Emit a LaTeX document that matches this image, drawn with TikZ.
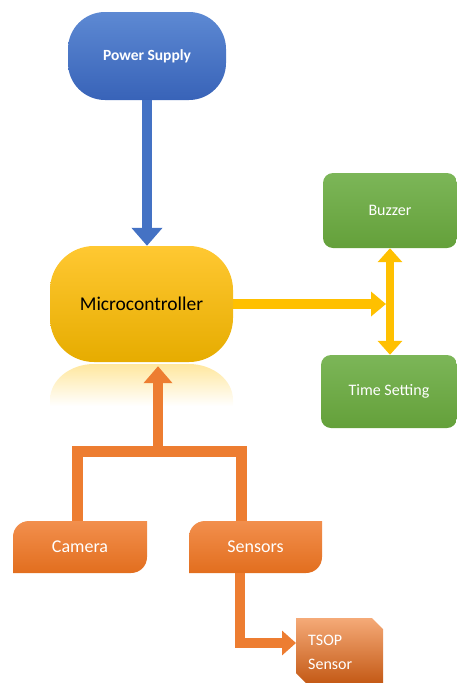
\documentclass[tikz,border=0pt]{standalone}
\usepackage{fontspec}
\setmainfont{Carlito}
\usetikzlibrary{arrows.meta}
\definecolor{bluetop}{RGB}{93,137,211}
\definecolor{bluebot}{RGB}{56,99,184}
\definecolor{bluearr}{RGB}{68,114,196}
\definecolor{yeltop}{RGB}{255,200,50}
\definecolor{yelbot}{RGB}{230,172,0}
\definecolor{yelarr}{RGB}{255,192,0}
\definecolor{grntop}{RGB}{124,182,88}
\definecolor{grnbot}{RGB}{100,160,58}
\definecolor{orgtop}{RGB}{242,143,77}
\definecolor{orgbot}{RGB}{226,110,30}
\definecolor{orgarr}{RGB}{237,125,49}
\definecolor{tsoptop}{RGB}{245,170,120}
\definecolor{tsopbot}{RGB}{196,90,22}
\tikzset{
  boxtext/.style={inner sep=0pt, text=white},
  greenbox/.style={rectangle, rounded corners=10pt, top color=grntop, bottom color=grnbot,
     text=white, font=\fontsize{16}{19}\selectfont},
  orangeshape/.style={top color=orgtop, bottom color=orgbot},
  blockarrow/.style={line width=10pt, line join=miter},
}
\begin{document}
\begin{tikzpicture}[x=1pt,y=-1pt]
\useasboundingbox (0,0) rectangle (457,683);
% reflection of microcontroller
\shade[top color=yelarr!38!white, bottom color=white]
  (50,406) -- (50,400) .. controls (50,380) and (70,364) .. (94,364)
  -- (189,364) .. controls (213,364) and (233,380) .. (233,400) -- (233,406) -- cycle;
% custom shapes
\shade[orangeshape] (13,573) -- (13,537) .. controls (13,528) and (20,521) .. (29,521)
  -- (147,521) -- (147,557) .. controls (147,566) and (140,573) .. (131,573) -- cycle;
\shade[orangeshape] (189,573) -- (189,537) .. controls (189,528) and (196,521) .. (205,521)
  -- (322,521) -- (322,557) .. controls (322,566) and (315,573) .. (306,573) -- cycle;
\shade[top color=tsoptop, bottom color=tsopbot]
  (296,618) -- (372,618) -- (383,629) -- (383,683) -- (306,683) -- (296,673) -- cycle;
% nodes
\node[rectangle, rounded corners=37pt, minimum width=158pt, minimum height=88pt,
      top color=bluetop, bottom color=bluebot, text=white,
      font=\fontsize{15.5}{18}\selectfont\bfseries] (ps) at (147,56) {Power Supply};
\node[rectangle, rounded corners=44pt, minimum width=183pt, minimum height=116pt,
      top color=yeltop, bottom color=yelbot, text=black,
      font=\fontsize{19.5}{23}\selectfont] (mc) at (141.5,304) {Microcontroller};
\node[greenbox, minimum width=134pt, minimum height=75pt] (bz) at (390,210.5) {Buzzer};
\node[greenbox, minimum width=136pt, minimum height=73pt] (ts) at (389,391.5) {Time Setting};
\node[boxtext, minimum width=134pt, minimum height=52pt, font=\fontsize{18}{21}\selectfont] (cam) at (80,547) {Camera};
\node[boxtext, minimum width=133pt, minimum height=52pt, font=\fontsize{18}{21}\selectfont] (sen) at (255.5,547) {Sensors};
\node[boxtext, anchor=north west, minimum height=68pt, inner xsep=12pt, text width=63pt,
      align=left, font=\fontsize{16}{24}\selectfont] (tsop) at (296,618) {TSOP\\Sensor};
% connector helper coordinates
\coordinate (vj) at (390,304);
\coordinate (cl) at (77.5,451);
\coordinate (cr) at (241,451);
\coordinate (oj) at (158,451);
\coordinate (mctip) at ([yshift=-4pt]mc.south);
\coordinate (sb) at (240,643);
% connectors
\draw[bluearr, blockarrow, -{Triangle[width=30pt,length=18pt]}] (ps.south) -- (ps.south |- mc.north);
\draw[yelarr, blockarrow, -{Triangle[width=24pt,length=15pt]}] (mc.east |- vj) -- ([xshift=-4pt]vj);
\draw[yelarr, line width=8pt, {Triangle[width=24pt,length=14pt]}-{Triangle[width=24pt,length=14pt]}]
  (bz.south -| vj) -- (ts.north -| vj);
\draw[orgarr, line width=11pt, line join=miter] (cam.north -| cl) -- (cl) -- (cr) -- (sen.north -| cr);
\draw[orgarr, blockarrow, -{Triangle[width=28pt,length=17pt]}] ([yshift=5pt]oj) -- (oj |- mctip);
\draw[orgarr, blockarrow, -{Triangle[width=24pt,length=14pt]}] (sen.south -| sb) -- (sb) -- (tsop.west |- sb);
\end{tikzpicture}
\end{document}
